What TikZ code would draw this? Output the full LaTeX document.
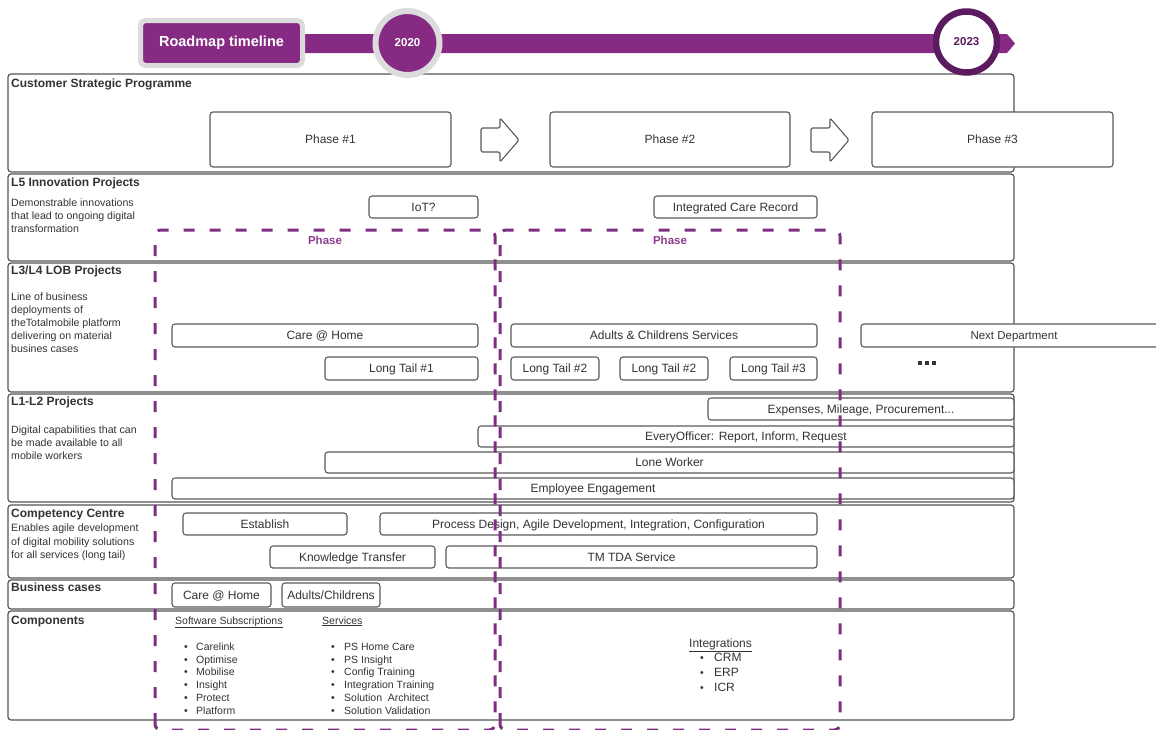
\documentclass[tikz,border=0pt]{standalone}
\usepackage{fontspec}
\setmainfont{Liberation Sans}
\definecolor{txt}{HTML}{333333}
\definecolor{boxgray}{HTML}{5A5A5A}
\definecolor{framegray}{HTML}{555555}
\definecolor{tlpurple}{HTML}{862A84}
\definecolor{ringgray}{HTML}{DCDCDC}
\definecolor{darkpurple}{HTML}{5C1B5E}
\definecolor{phpurple}{HTML}{7E2E80}
\definecolor{phtext}{HTML}{8E3C8E}
\newcommand\mybox[7][]{\node[bx,#1, minimum width={(#5)-(#3)}, minimum height={(#6)-(#4)}] (#2) at ({((#3)+(#5))/2},{((#4)+(#6))/2}) {#7};}
\begin{document}
\begin{tikzpicture}[x=1pt,y=-1pt,
  lane/.style={draw=framegray, line width=1.2pt, rounded corners=3pt},
  bx/.style={draw=boxgray, line width=1.1pt, rounded corners=3pt, fill=white, inner sep=0pt, outer sep=0pt,
     font=\fontsize{12}{14}\selectfont, text=txt, text height=8.6pt, text depth=0pt},
  ttl/.style={anchor=base west, inner sep=0pt, font=\fontsize{12}{14}\selectfont\bfseries, text=txt},
  desc/.style={anchor=base west, inner sep=0pt, font=\fontsize{10.6}{13}\selectfont, text=txt},
  item/.style={anchor=base west, inner sep=0pt, font=\fontsize{10.5}{13}\selectfont, text=txt},
  integ/.style={anchor=base west, inner sep=0pt, font=\fontsize{12}{14}\selectfont, text=txt},
  phdash/.style={draw=phpurple, line width=3pt, dash pattern=on 11pt off 15pt, rounded corners=6pt},
  blockarrow/.style={draw=boxgray, line width=1.1pt, fill=white, rounded corners=1.5pt, line join=round},
  phlabel/.style={inner sep=0pt, font=\fontsize{11.5}{13}\selectfont\bfseries, text=phtext}
]
\useasboundingbox (0,0) rectangle (1156,729);
\clip (0,0) rectangle (1156,729);

% lane frames
\draw[lane] (8,74) rectangle (1014,172);
\draw[lane] (8,174) rectangle (1014,261);
\draw[lane] (8,263) rectangle (1014,392);
\draw[lane] (8,394) rectangle (1014,502);
\draw[lane] (8,505) rectangle (1014,578);
\draw[lane] (8,580) rectangle (1014,609);
\draw[lane] (8,611) rectangle (1014,720);

% timeline
\fill[tlpurple] (300,34) -- (1007,34) -- (1015,43.5) -- (1007,53) -- (300,53) -- cycle;
\node[draw=ringgray, line width=5pt, fill=tlpurple, rounded corners=5pt, minimum width=162pt, minimum height=45pt,
  inner sep=0pt, text=white, font=\fontsize{14.5}{16}\selectfont\bfseries] (rm) at (221.5,43) {Roadmap timeline};
\node[circle, draw=ringgray, line width=6pt, fill=tlpurple, minimum size=64pt, inner sep=0pt,
  text=white, font=\fontsize{11.5}{13}\selectfont\bfseries] (y2020) at (407.5,43) {2020};
\node[circle, draw=darkpurple, line width=6.5pt, fill=white, minimum size=61pt, inner sep=0pt,
  text=darkpurple, font=\fontsize{11.5}{13}\selectfont\bfseries] (y2023) at (966.5,42) {2023};

% lane titles
\node[ttl] (t1) at (11,87) {Customer Strategic Programme};
\node[ttl] (t2) at (11,186) {L5 Innovation Projects};
\node[ttl] (t3) at (11,274) {L3/L4 LOB Projects};
\node[ttl] (t4) at (11,405) {L1-L2 Projects};
\node[ttl] (t5) at (11,517) {Competency Centre};
\node[ttl] (t6) at (11,591) {Business cases};
\node[ttl] (t7) at (11,624) {Components};

% descriptions
\foreach \t [count=\i from 0] in {Demonstrable innovations,that lead to ongoing digital,transformation}
  \node[desc] (d2\i) at ({11},{203+13*\i+3.8}) {\t};
\foreach \t [count=\i from 0] in {Line of business,deployments of,theTotalmobile platform,delivering on material,busines cases}
  \node[desc] (d3\i) at ({11},{297+13*\i+3.8}) {\t};
\foreach \t [count=\i from 0] in {Digital capabilities that can,be made available to all,mobile workers}
  \node[desc] (d4\i) at ({11},{430+13*\i+3.8}) {\t};
\foreach \t [count=\i from 0] in {Enables agile development,of digital mobility solutions,for all services (long tail)}
  \node[desc] (d5\i) at ({11},{528+13.5*\i+3.8}) {\t};

% strategic programme
\mybox{ph1}{210}{112}{451}{167}{Phase \#1}
\mybox{ph2}{550}{112}{790}{167}{Phase \#2}
\mybox{ph3}{872}{112}{1113}{167}{Phase \#3}
\foreach \x/\n in {481/a1, 811/a2}
  \draw[blockarrow] (\x,128) -- ({\x+19},128) -- ({\x+19},118) -- ({\x+38},140) -- ({\x+19},162) -- ({\x+19},152) -- (\x,152) -- cycle;

% L5
\mybox{iot}{369}{196}{478}{218}{IoT?}
\mybox{icr}{654}{196}{817}{218}{Integrated Care Record}

% L3/L4
\mybox{care}{172}{324}{478}{347}{Care @ Home}
\mybox{acs}{511}{324}{817}{347}{Adults \& Childrens Services}
\mybox[font=\fontsize{11.5}{13}\selectfont]{next}{861}{324}{1167}{347}{Next Department}
\mybox{lt1}{325}{357}{478}{380}{Long Tail \#1}
\mybox{lt2}{511}{357}{599}{380}{Long Tail \#2}
\mybox{lt2b}{620}{357}{708}{380}{Long Tail \#2}
\mybox{lt3}{730}{357}{817}{380}{Long Tail \#3}
\foreach \k in {0,1,2}
  \fill[txt] ({918+7*\k},360.5) rectangle ({922+7*\k},365) coordinate (dot\k);

% L1-L2
\mybox{exp}{708}{398}{1014}{420}{Expenses, Mileage, Procurement...}
\mybox{eo}{478}{426}{1014}{447}{EveryOfficer: Report, Inform, Request}
\mybox{lw}{325}{452}{1014}{473}{Lone Worker}
\mybox{ee}{172}{478}{1014}{499}{Employee Engagement}

% Competency centre
\mybox{est}{183}{513}{347}{535}{Establish}
\mybox{pd}{380}{513}{817}{535}{Process Design, Agile Development, Integration, Configuration}
\mybox{kt}{270}{546}{435}{568}{Knowledge Transfer}
\mybox{tda}{446}{546}{817}{568}{TM TDA Service}

% Business cases
\mybox{bc1}{172}{583}{271}{607}{Care @ Home}
\mybox{bc2}{282}{583}{380}{607}{Adults/Childrens}

% Components
\node[item] (sshead) at (175,624) {\underline{Software Subscriptions}};
\node[item] (svhead) at (322,624) {\underline{Services}};
\foreach \t [count=\i from 0] in {Carelink,Optimise,Mobilise,Insight,Protect,Platform}{
  \node[item] (ssb\i) at ({184},{646.5+12.8*\i+3.8}) {•};
  \node[item] (ss\i) at ({196},{646.5+12.8*\i+3.8}) {\t};}
\foreach \t [count=\i from 0] in {PS Home Care,PS Insight,Config Training,Integration Training,Solution\ \ Architect,Solution Validation}{
  \node[item] (svb\i) at ({331},{646.5+12.8*\i+3.8}) {•};
  \node[item] (sv\i) at ({344},{646.5+12.8*\i+3.8}) {\t};}
\node[integ] (inhead) at (689,647.3) {\underline{Integrations}};
\foreach \t [count=\i from 0] in {CRM,ERP,ICR}{
  \node[item] (inb\i) at ({700},{657+15*\i+4.3}) {•};
  \node[integ] (in\i) at ({714},{657+15*\i+4.3}) {\t};}

% dashed phase regions
\draw[phdash] (155,730) -- (155,230) -- (495,230) -- (495,730) -- cycle;
\draw[phdash] (500,730) -- (500,230) -- (840,230) -- (840,730) -- cycle;
\node[phlabel] (phl1) at (325,240) {Phase};
\node[phlabel] (phl2) at (670,240) {Phase};
\end{tikzpicture}
\end{document}
